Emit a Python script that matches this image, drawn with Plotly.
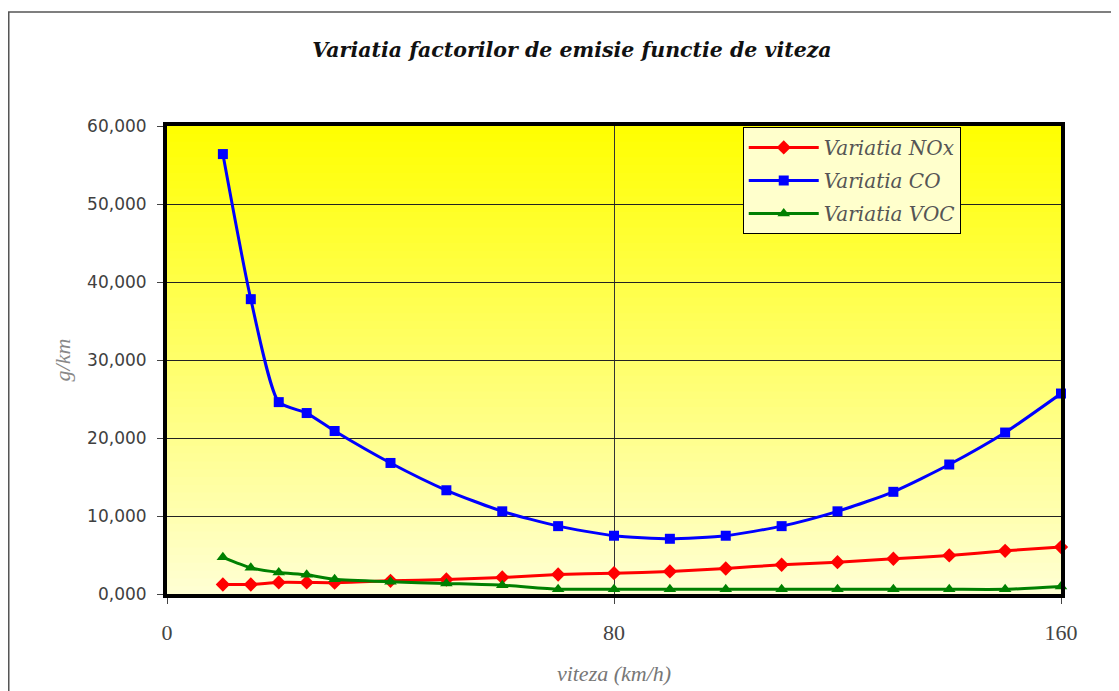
import plotly.graph_objects as go

# Data (speed km/h, emission factor g/km)
viteza = [10, 15, 20, 25, 30, 40, 50, 60, 70, 80, 90, 100, 110, 120, 130, 140, 150, 160]
nox = [1.22, 1.22, 1.48, 1.48, 1.45, 1.69, 1.86, 2.12, 2.50, 2.67, 2.89, 3.27, 3.75, 4.08, 4.52, 4.94, 5.54, 6.01]
co = [56.4, 37.8, 24.6, 23.2, 20.9, 16.8, 13.3, 10.6, 8.7, 7.47, 7.08, 7.47, 8.7, 10.6, 13.1, 16.6, 20.7, 25.7]
voc = [4.70, 3.36, 2.76, 2.46, 1.90, 1.57, 1.35, 1.13, 0.62, 0.62, 0.60, 0.60, 0.60, 0.60, 0.60, 0.60, 0.60, 0.96]

series_names = ["Variatia NOx", "Variatia CO", "Variatia VOC"]
x_ticks = [0, 80, 160]
y_ticks = [0, 10, 20, 30, 40, 50, 60]

SERIF = "Liberation Serif"
WIDESERIF = "DejaVu Serif"

fig = go.Figure()
styles = [
    (nox, "#FF0000", "diamond", 11),
    (co, "#0000FF", "square", 10),
    (voc, "#008000", "triangle-up", 11),
]
for i, (vals, col, sym, sz) in enumerate(styles):
    fig.add_trace(go.Scatter(
        x=viteza, y=vals, name=series_names[i], mode="lines+markers",
        line=dict(color=col, width=3, shape="spline", smoothing=0.6),
        marker=dict(color=col, symbol=sym, size=sz),
        cliponaxis=False, legendgroup=f"g{i}",
    ))

# vertical gradient background (yellow -> pale yellow)
N = 60
top = (255, 255, 0)
bot = (255, 255, 212)
shapes = []
for k in range(N):
    f = (k + 0.5) / N  # 0 at bottom, 1 at top
    r = int(round(bot[0] + (top[0] - bot[0]) * f))
    g = int(round(bot[1] + (top[1] - bot[1]) * f))
    b = int(round(bot[2] + (top[2] - bot[2]) * f))
    shapes.append(dict(type="rect", xref="x domain", yref="y domain",
                       x0=0, x1=1, y0=k / N, y1=(k + 1) / N + 0.002,
                       fillcolor=f"rgb({r},{g},{b})", line=dict(width=0),
                       layer="below"))
# outer chart frame
shapes.append(dict(type="rect", xref="paper", yref="paper",
                   x0=-0.177, x1=1.2, y0=-0.4, y1=1.2436,
                   line=dict(color="#555555", width=1.5), fillcolor="rgba(0,0,0,0)",
                   layer="above"))

fig.update_layout(
    width=1119, height=691,
    margin=dict(l=159, r=66, t=118, b=105),
    paper_bgcolor="white", plot_bgcolor="rgba(0,0,0,0)",
    separators=",.",
    shapes=shapes,
    title=dict(text="Variatia factorilor de emisie functie de viteza",
               x=0.504, xanchor="center", y=0.939, yanchor="middle",
               font=dict(family=WIDESERIF, size=20.5, color="#111111", style="italic", weight="bold")),
    legend=dict(x=0.644, y=0.998, xanchor="left", yanchor="top",
                bgcolor="#FFFFCC", bordercolor="black", borderwidth=1,
                font=dict(family=WIDESERIF, size=20, color="#555555", style="italic"),
                traceorder="grouped", tracegroupgap=4, itemwidth=70),
    xaxis=dict(range=[0, 160], tickvals=x_ticks, showgrid=True, gridcolor="#333333", gridwidth=1,
               showline=True, linecolor="black", linewidth=4, mirror=True,
               ticks="outside", ticklen=6, tickcolor="#444444", tickwidth=1,
               tickfont=dict(family=SERIF, size=22, color="#444444"),
               ticklabelstandoff=10,
               zeroline=False,
               title=dict(text="viteza (km/h)", standoff=22,
                          font=dict(family=SERIF, size=22, color="#777777", style="italic"))),
    yaxis=dict(range=[0, 60], tickvals=y_ticks, tickformat=".3f", showgrid=True,
               gridcolor="#222222", gridwidth=1,
               showline=True, linecolor="black", linewidth=4, mirror=True,
               ticks="outside", ticklen=6, tickcolor="#444444", tickwidth=1,
               tickfont=dict(family="DejaVu Sans", size=17, color="#404040"),
               ticklabelstandoff=7,
               zeroline=False,
               title=dict(text="g/km", standoff=11,
                          font=dict(family=SERIF, size=22, color="#888888", style="italic"))),
)

fig.write_html("out.html")
